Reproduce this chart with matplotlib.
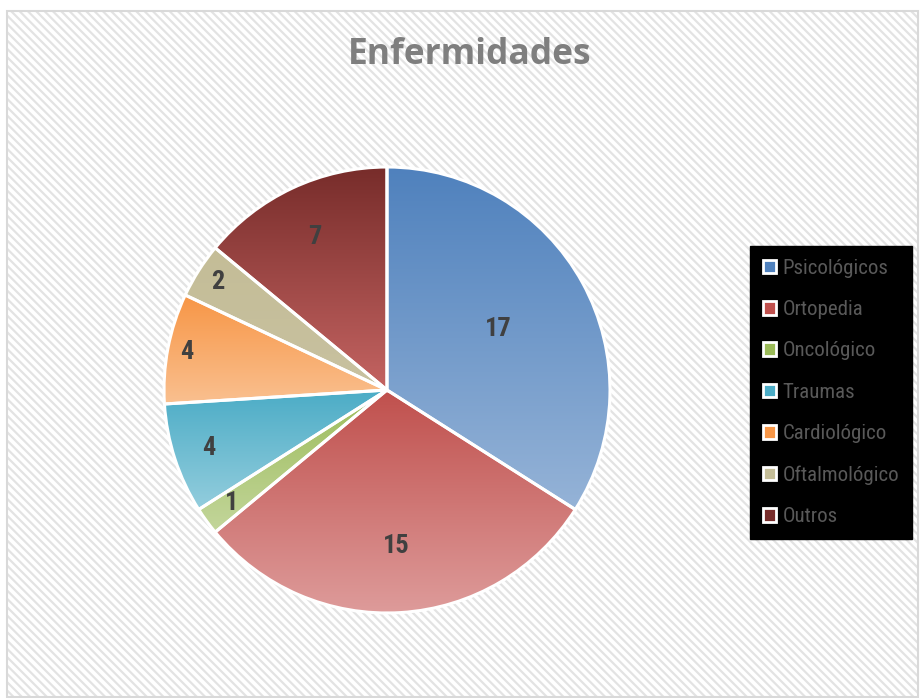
import matplotlib; matplotlib.use('agg')
import matplotlib.pyplot as plt
import numpy as np
from matplotlib.colors import LinearSegmentedColormap
from matplotlib.patches import Rectangle

# dados
categorias = ['Psicológicos', 'Ortopedia', 'Oncológico', 'Traumas',
              'Cardiológico', 'Oftalmológico', 'Outros']
valores = [17, 15, 1, 4, 4, 2, 7]
cor_topo = ['#4F81BD', '#C0504D', '#9BBB59', '#4BACC6', '#F79646', '#C4BD97', '#772C2A']
cor_base = ['#95B3D7', '#DE9C9B', '#C3D69B', '#93CDDD', '#FAC090', '#C8C1A0', '#C46462']
# distancia do rotulo ao centro (fração do raio)
dist_rotulo = [0.57, 0.70, 0.86, 0.84, 0.915, 0.90, 0.76]

plt.rcParams['font.family'] = ['Roboto Condensed', 'DejaVu Sans']

W, H = 921, 698
fig = plt.figure(figsize=(W/100, H/100), dpi=100)

# fundo com listras
bg = fig.add_axes([0, 0, 1, 1])
bg.set_xlim(0, W); bg.set_ylim(H, 0); bg.axis('off')
plt.rcParams['hatch.linewidth'] = 1.6
bg.add_patch(Rectangle((7, 11), 911, 686, facecolor='white', edgecolor='#E3E3E3',
                       hatch='\\\\\\\\', linewidth=0))
bg.add_patch(Rectangle((7, 11), 911, 686, facecolor='none', edgecolor='#D9D9D9', linewidth=1.5))

fig.text(470/W, 1-55/H, 'Enfermidades', ha='center', va='center', fontsize=25.5,
         fontweight='bold', color='#7F7F7F', family=['Open Sans', 'DejaVu Sans'])

# pizza
cx, cy, r = 387, 390, 223
m = 1.05
ax = fig.add_axes([(cx - r*m)/W, 1-(cy + r*m)/H, 2*r*m/W, 2*r*m/H])
wedges, _ = ax.pie(valores, startangle=90, counterclock=False,
                   wedgeprops=dict(edgecolor='white', linewidth=2.2))
ax.set_aspect('equal')
ax.axis('off')

for w, c0, c1 in zip(wedges, cor_topo, cor_base):
    verts = w.get_patch_transform().transform(w.get_path().vertices)
    y0, y1 = verts[:, 1].min(), verts[:, 1].max()
    x0, x1 = verts[:, 0].min(), verts[:, 0].max()
    cmap = LinearSegmentedColormap.from_list('g', [c1, c0])
    grad = np.linspace(0, 1, 256).reshape(-1, 1)
    im = ax.imshow(grad, cmap=cmap, extent=[x0, x1, y0, y1], origin='lower',
                   aspect='auto', zorder=w.get_zorder() - 0.1)
    im.set_clip_path(w)
    w.set_facecolor('none')

ax.set_xlim(-m, m); ax.set_ylim(-m, m)

# rótulos
total = sum(valores)
ang = 90
for v, d in zip(valores, dist_rotulo):
    meio = np.deg2rad(ang - v/total*360/2)
    ang -= v/total*360
    ax.text(d*np.cos(meio), d*np.sin(meio), str(v), ha='center', va='center',
            fontsize=19, fontweight='bold', color='#404040', zorder=5)

# legenda
leg = fig.legend(wedges, categorias, loc='upper left',
                 bbox_to_anchor=(750/W, 1-246/H), frameon=True, fontsize=15,
                 labelcolor='#595959', handlelength=0.62, handleheight=0.62,
                 handletextpad=0.32, labelspacing=1.07, borderpad=0.62, borderaxespad=0)
leg.get_frame().set_facecolor('black')
leg.get_frame().set_edgecolor('black')
leg.get_frame().set_alpha(1)
leg.get_frame().set_boxstyle('square', pad=0)
for h, c0 in zip(leg.legend_handles, cor_topo):
    h.set_facecolor(c0)
    h.set_edgecolor('white')
    h.set_linewidth(2)

fig.savefig('out.png', dpi=100)
